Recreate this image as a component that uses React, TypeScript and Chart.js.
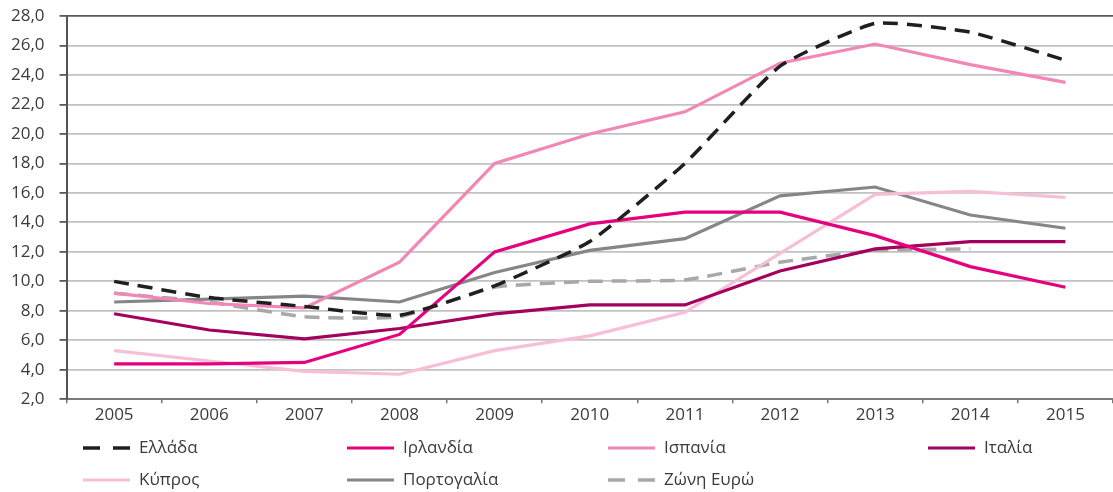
import React, { useEffect, useRef } from "react";
import { Chart, registerables } from "chart.js";

Chart.register(...registerables);

const years = ["2005", "2006", "2007", "2008", "2009", "2010", "2011", "2012", "2013", "2014", "2015"];
const greece = [10.0, 8.9, 8.3, 7.7, 9.7, 12.7, 18.0, 24.6, 27.5, 26.9, 25.0];
const ireland = [4.4, 4.4, 4.5, 6.4, 12.0, 13.9, 14.7, 14.7, 13.1, 11.0, 9.6];
const spain = [9.2, 8.5, 8.2, 11.3, 18.0, 20.0, 21.5, 24.8, 26.1, 24.7, 23.5];
const italy = [7.8, 6.7, 6.1, 6.8, 7.8, 8.4, 8.4, 10.7, 12.2, 12.7, 12.7];
const cyprus = [5.3, 4.6, 3.9, 3.7, 5.3, 6.3, 7.9, 11.9, 15.9, 16.1, 15.7];
const portugal = [8.6, 8.8, 9.0, 8.6, 10.6, 12.1, 12.9, 15.8, 16.4, 14.5, 13.6];
const euroArea = [9.2, 8.6, 7.6, 7.6, 9.6, 10.0, 10.1, 11.3, 12.1, 12.2, null];

const seriesNames = ["Ελλάδα", "Ιρλανδία", "Ισπανία", "Ιταλία", "Κύπρος", "Πορτογαλία", "Ζώνη Ευρώ"];

const FONT = "'Open Sans', 'Noto Sans', sans-serif";
const TEXT = "#3b3b3b";

const legendSlots = [
  { x: 83, y: 448 },
  { x: 347, y: 448 },
  { x: 608, y: 448 },
  { x: 928, y: 448 },
  { x: 83, y: 480 },
  { x: 347, y: 480 },
  { x: 608, y: 480 },
];

const legendPlugin = {
  id: "customLegend",
  afterDraw(chart: any) {
    const ctx = chart.ctx;
    ctx.save();
    chart.data.datasets.forEach((ds: any, i: number) => {
      const p = legendSlots[i];
      if (!p) return;
      ctx.beginPath();
      ctx.strokeStyle = ds.borderColor;
      ctx.lineWidth = ds.borderWidth;
      ctx.lineCap = "butt";
      ctx.setLineDash(ds.borderDash && ds.borderDash.length ? [17, 13] : []);
      ctx.moveTo(p.x, p.y);
      ctx.lineTo(p.x + 47, p.y);
      ctx.stroke();
      ctx.setLineDash([]);
      ctx.fillStyle = TEXT;
      ctx.font = `17px ${FONT}`;
      ctx.textBaseline = "middle";
      ctx.textAlign = "left";
      ctx.fillText(ds.label, p.x + 56, p.y);
    });
    ctx.restore();
  },
};

export default function App() {
  const ref = useRef<HTMLCanvasElement | null>(null);

  useEffect(() => {
    if (!ref.current) return;
    const mk = (label: string, data: (number | null)[], color: string, width: number, dash: number[] | undefined, tension: number) => ({
      label,
      data,
      borderColor: color,
      backgroundColor: color,
      borderWidth: width,
      borderDash: dash,
      tension,
      pointRadius: 0,
      pointHoverRadius: 0,
      fill: false,
      spanGaps: false,
    });
    const chart = new Chart(ref.current, {
      type: "line",
      data: {
        labels: years,
        datasets: [
          mk(seriesNames[0], greece, "#1f1f1f", 3.5, [15, 9], 0.15),
          mk(seriesNames[1], ireland, "#e5007d", 3.2, undefined, 0),
          mk(seriesNames[2], spain, "#f286b6", 3.2, undefined, 0),
          mk(seriesNames[3], italy, "#a4005d", 3.2, undefined, 0),
          mk(seriesNames[4], cyprus, "#f7bfd7", 3.2, undefined, 0),
          mk(seriesNames[5], portugal, "#868686", 3.2, undefined, 0),
          mk(seriesNames[6], euroArea, "#a8a8a8", 3.5, [15, 9], 0.15),
        ],
      },
      options: {
        responsive: false,
        animation: false,
        layout: { padding: { left: -4, right: 0, top: 16, bottom: 64 } },
        plugins: {
          legend: { display: false },
          tooltip: { enabled: false },
        },
        scales: {
          x: {
            offset: true,
            grid: {
              offset: true,
              drawOnChartArea: false,
              drawTicks: true,
              tickLength: 4,
              color: "#777777",
              tickColor: "#777777",
              lineWidth: 1.5,
            },
            border: { display: true, color: "#7a7a7a", width: 2 },
            ticks: {
              color: TEXT,
              font: { family: FONT, size: 17, lineHeight: 1.1 },
              padding: 3,
              maxRotation: 0,
            },
          },
          y: {
            min: 2,
            max: 28,
            afterFit: (scale: any) => {
              scale.paddingTop = 8;
              scale.paddingBottom = 8;
            },
            ticks: {
              stepSize: 2,
              color: TEXT,
              font: { family: FONT, size: 17, lineHeight: 1.0 },
              padding: 15,
              callback: (v: any) => Number(v).toFixed(1).replace(".", ","),
            },
            grid: {
              drawTicks: true,
              tickLength: 7,
              color: (c: any) => (c.tick && c.tick.value === 28 ? "#5a5a5a" : "#c2c2c2"),
              tickColor: "#5a5a5a",
              lineWidth: 1.8,
            },
            border: { display: true, color: "#555555", width: 2 },
          },
        },
      },
      plugins: [legendPlugin],
    } as any);
    return () => chart.destroy();
  }, []);

  return (
    <div style={{ position: "absolute", left: 0, top: 0, width: 1113, height: 492, background: "#ffffff" }}>
      <canvas ref={ref} width={1113} height={492} style={{ display: "block", width: 1113, height: 492 }} />
    </div>
  );
}
